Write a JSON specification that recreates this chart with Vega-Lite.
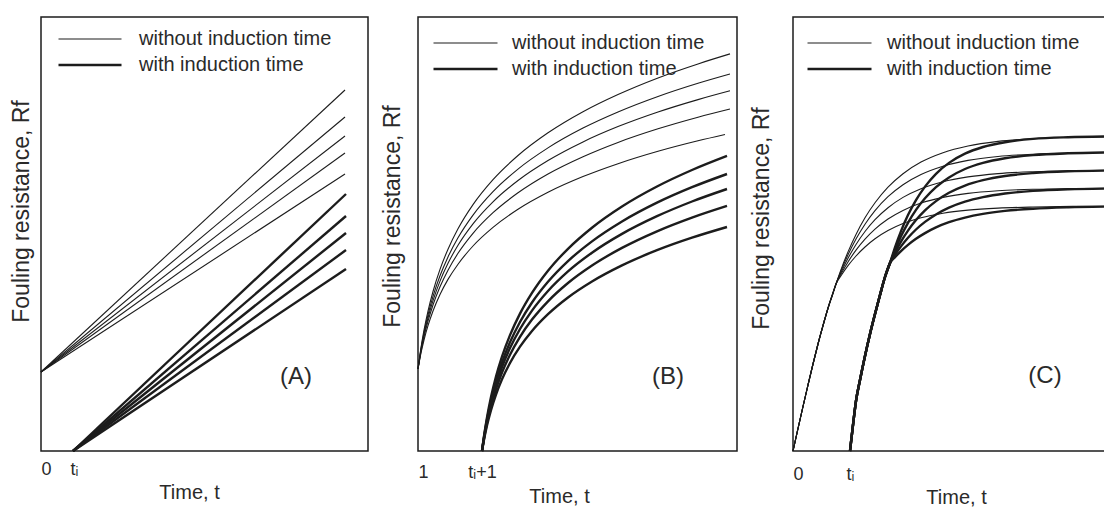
{
"$schema": "https://vega.github.io/schema/vega-lite/v6.json",
"padding": {"left": 9, "top": 16, "right": 0, "bottom": 0},
"spacing": 11,
"background": "white",
"config": {
  "font": "Liberation Sans",
  "view": {"stroke": "#1c1c1c", "strokeWidth": 1.5},
  "axis": {"grid": false, "ticks": false, "domain": false, "labelFont": "Liberation Sans", "labelFontSize": 18, "labelColor": "#2a2a2a", "titleFont": "Liberation Sans", "titleFontWeight": "normal", "titleColor": "#2a2a2a"},
  "legend": {"orient": "none", "title": null, "padding": 0, "symbolType": "stroke", "symbolStrokeColor": "#1c1c1c", "labelFont": "Liberation Sans", "labelFontSize": 20, "labelColor": "#2a2a2a", "labelLimit": 400, "clipHeight": 26, "rowPadding": 0},
  "line": {"color": "#1c1c1c"},
  "text": {"font": "Liberation Sans", "color": "#2a2a2a"}
},
"resolve": {"scale": {"x": "independent", "y": "independent", "strokeWidth": "independent"}, "legend": {"strokeWidth": "independent"}},
"datasets": {
"curves": [
{"p":"A","c":"w1","k":"without","t":0,"R":79},{"p":"A","c":"w1","k":"without","t":304,"R":361},
{"p":"A","c":"w2","k":"without","t":0,"R":79},{"p":"A","c":"w2","k":"without","t":304,"R":334},
{"p":"A","c":"w3","k":"without","t":0,"R":79},{"p":"A","c":"w3","k":"without","t":304,"R":315},
{"p":"A","c":"w4","k":"without","t":0,"R":79},{"p":"A","c":"w4","k":"without","t":304,"R":298},
{"p":"A","c":"w5","k":"without","t":0,"R":79},{"p":"A","c":"w5","k":"without","t":304,"R":277},
{"p":"A","c":"i1","k":"with","t":32,"R":0},{"p":"A","c":"i1","k":"with","t":305,"R":257},
{"p":"A","c":"i2","k":"with","t":32,"R":0},{"p":"A","c":"i2","k":"with","t":305,"R":235},
{"p":"A","c":"i3","k":"with","t":32,"R":0},{"p":"A","c":"i3","k":"with","t":305,"R":218},
{"p":"A","c":"i4","k":"with","t":32,"R":0},{"p":"A","c":"i4","k":"with","t":305,"R":201},
{"p":"A","c":"i5","k":"with","t":32,"R":0},{"p":"A","c":"i5","k":"with","t":305,"R":182},

{"p":"B","c":"w1","k":"without","t":0,"R":82},{"p":"B","c":"w1","k":"without","t":3,"R":103.3},{"p":"B","c":"w1","k":"without","t":6,"R":120.8},{"p":"B","c":"w1","k":"without","t":10,"R":139.9},{"p":"B","c":"w1","k":"without","t":15,"R":159.5},{"p":"B","c":"w1","k":"without","t":22,"R":181.6},{"p":"B","c":"w1","k":"without","t":30,"R":201.8},{"p":"B","c":"w1","k":"without","t":40,"R":222.2},{"p":"B","c":"w1","k":"without","t":55,"R":246.4},{"p":"B","c":"w1","k":"without","t":75,"R":271.4},{"p":"B","c":"w1","k":"without","t":100,"R":295.5},{"p":"B","c":"w1","k":"without","t":130,"R":318.2},{"p":"B","c":"w1","k":"without","t":165,"R":339.3},{"p":"B","c":"w1","k":"without","t":200,"R":356.5},{"p":"B","c":"w1","k":"without","t":240,"R":373.1},{"p":"B","c":"w1","k":"without","t":280,"R":387.1},{"p":"B","c":"w1","k":"without","t":312,"R":397.1},
{"p":"B","c":"w2","k":"without","t":0,"R":82},{"p":"B","c":"w2","k":"without","t":3,"R":102.0},{"p":"B","c":"w2","k":"without","t":6,"R":118.3},{"p":"B","c":"w2","k":"without","t":10,"R":136.2},{"p":"B","c":"w2","k":"without","t":15,"R":154.6},{"p":"B","c":"w2","k":"without","t":22,"R":175.2},{"p":"B","c":"w2","k":"without","t":30,"R":194.1},{"p":"B","c":"w2","k":"without","t":40,"R":213.2},{"p":"B","c":"w2","k":"without","t":55,"R":235.9},{"p":"B","c":"w2","k":"without","t":75,"R":259.3},{"p":"B","c":"w2","k":"without","t":100,"R":281.9},{"p":"B","c":"w2","k":"without","t":130,"R":303.1},{"p":"B","c":"w2","k":"without","t":165,"R":322.9},{"p":"B","c":"w2","k":"without","t":200,"R":339.0},{"p":"B","c":"w2","k":"without","t":240,"R":354.5},{"p":"B","c":"w2","k":"without","t":280,"R":367.7},{"p":"B","c":"w2","k":"without","t":312,"R":377.0},
{"p":"B","c":"w3","k":"without","t":0,"R":82},{"p":"B","c":"w3","k":"without","t":3,"R":100.8},{"p":"B","c":"w3","k":"without","t":6,"R":116.2},{"p":"B","c":"w3","k":"without","t":10,"R":133.2},{"p":"B","c":"w3","k":"without","t":15,"R":150.4},{"p":"B","c":"w3","k":"without","t":22,"R":169.9},{"p":"B","c":"w3","k":"without","t":30,"R":187.7},{"p":"B","c":"w3","k":"without","t":40,"R":205.8},{"p":"B","c":"w3","k":"without","t":55,"R":227.2},{"p":"B","c":"w3","k":"without","t":75,"R":249.2},{"p":"B","c":"w3","k":"without","t":100,"R":270.5},{"p":"B","c":"w3","k":"without","t":130,"R":290.5},{"p":"B","c":"w3","k":"without","t":165,"R":309.1},{"p":"B","c":"w3","k":"without","t":200,"R":324.4},{"p":"B","c":"w3","k":"without","t":240,"R":339.0},{"p":"B","c":"w3","k":"without","t":280,"R":351.4},{"p":"B","c":"w3","k":"without","t":312,"R":360.2},
{"p":"B","c":"w4","k":"without","t":0,"R":82},{"p":"B","c":"w4","k":"without","t":3,"R":99.6},{"p":"B","c":"w4","k":"without","t":6,"R":114.0},{"p":"B","c":"w4","k":"without","t":10,"R":129.8},{"p":"B","c":"w4","k":"without","t":15,"R":146.0},{"p":"B","c":"w4","k":"without","t":22,"R":164.2},{"p":"B","c":"w4","k":"without","t":30,"R":180.8},{"p":"B","c":"w4","k":"without","t":40,"R":197.7},{"p":"B","c":"w4","k":"without","t":55,"R":217.7},{"p":"B","c":"w4","k":"without","t":75,"R":238.3},{"p":"B","c":"w4","k":"without","t":100,"R":258.2},{"p":"B","c":"w4","k":"without","t":130,"R":277.0},{"p":"B","c":"w4","k":"without","t":165,"R":294.3},{"p":"B","c":"w4","k":"without","t":200,"R":308.6},{"p":"B","c":"w4","k":"without","t":240,"R":322.2},{"p":"B","c":"w4","k":"without","t":280,"R":333.8},{"p":"B","c":"w4","k":"without","t":312,"R":342.0},
{"p":"B","c":"w5","k":"without","t":0,"R":82},{"p":"B","c":"w5","k":"without","t":3,"R":98.0},{"p":"B","c":"w5","k":"without","t":6,"R":111.0},{"p":"B","c":"w5","k":"without","t":10,"R":125.3},{"p":"B","c":"w5","k":"without","t":15,"R":140.0},{"p":"B","c":"w5","k":"without","t":22,"R":156.5},{"p":"B","c":"w5","k":"without","t":30,"R":171.6},{"p":"B","c":"w5","k":"without","t":40,"R":186.8},{"p":"B","c":"w5","k":"without","t":55,"R":205.0},{"p":"B","c":"w5","k":"without","t":75,"R":223.6},{"p":"B","c":"w5","k":"without","t":100,"R":241.7},{"p":"B","c":"w5","k":"without","t":130,"R":258.7},{"p":"B","c":"w5","k":"without","t":165,"R":274.4},{"p":"B","c":"w5","k":"without","t":200,"R":287.3},{"p":"B","c":"w5","k":"without","t":240,"R":299.7},{"p":"B","c":"w5","k":"without","t":280,"R":310.2},{"p":"B","c":"w5","k":"without","t":307,"R":316.5},
{"p":"B","c":"i1","k":"with","t":64,"R":0},{"p":"B","c":"i1","k":"with","t":66,"R":14.8},{"p":"B","c":"i1","k":"with","t":69,"R":33.5},{"p":"B","c":"i1","k":"with","t":73,"R":53.9},{"p":"B","c":"i1","k":"with","t":78,"R":74.5},{"p":"B","c":"i1","k":"with","t":84,"R":94.5},{"p":"B","c":"i1","k":"with","t":92,"R":115.9},{"p":"B","c":"i1","k":"with","t":102,"R":137.4},{"p":"B","c":"i1","k":"with","t":114,"R":158.1},{"p":"B","c":"i1","k":"with","t":130,"R":180.3},{"p":"B","c":"i1","k":"with","t":150,"R":202.2},{"p":"B","c":"i1","k":"with","t":174,"R":223.3},{"p":"B","c":"i1","k":"with","t":204,"R":244.5},{"p":"B","c":"i1","k":"with","t":239,"R":264.5},{"p":"B","c":"i1","k":"with","t":274,"R":281.0},{"p":"B","c":"i1","k":"with","t":309,"R":295.1},
{"p":"B","c":"i2","k":"with","t":64,"R":0},{"p":"B","c":"i2","k":"with","t":66,"R":13.9},{"p":"B","c":"i2","k":"with","t":69,"R":31.5},{"p":"B","c":"i2","k":"with","t":73,"R":50.6},{"p":"B","c":"i2","k":"with","t":78,"R":69.9},{"p":"B","c":"i2","k":"with","t":84,"R":88.7},{"p":"B","c":"i2","k":"with","t":92,"R":108.8},{"p":"B","c":"i2","k":"with","t":102,"R":129.0},{"p":"B","c":"i2","k":"with","t":114,"R":148.5},{"p":"B","c":"i2","k":"with","t":130,"R":169.2},{"p":"B","c":"i2","k":"with","t":150,"R":189.9},{"p":"B","c":"i2","k":"with","t":174,"R":209.6},{"p":"B","c":"i2","k":"with","t":204,"R":229.5},{"p":"B","c":"i2","k":"with","t":239,"R":248.3},{"p":"B","c":"i2","k":"with","t":274,"R":263.8},{"p":"B","c":"i2","k":"with","t":309,"R":277.0},
{"p":"B","c":"i3","k":"with","t":64,"R":0},{"p":"B","c":"i3","k":"with","t":66,"R":13.2},{"p":"B","c":"i3","k":"with","t":69,"R":29.8},{"p":"B","c":"i3","k":"with","t":73,"R":47.8},{"p":"B","c":"i3","k":"with","t":78,"R":66.1},{"p":"B","c":"i3","k":"with","t":84,"R":83.9},{"p":"B","c":"i3","k":"with","t":92,"R":102.9},{"p":"B","c":"i3","k":"with","t":102,"R":122.0},{"p":"B","c":"i3","k":"with","t":114,"R":140.4},{"p":"B","c":"i3","k":"with","t":130,"R":160.0},{"p":"B","c":"i3","k":"with","t":150,"R":179.6},{"p":"B","c":"i3","k":"with","t":174,"R":198.3},{"p":"B","c":"i3","k":"with","t":204,"R":217.1},{"p":"B","c":"i3","k":"with","t":239,"R":234.8},{"p":"B","c":"i3","k":"with","t":274,"R":249.5},{"p":"B","c":"i3","k":"with","t":309,"R":262.0},
{"p":"B","c":"i4","k":"with","t":64,"R":0},{"p":"B","c":"i4","k":"with","t":66,"R":12.3},{"p":"B","c":"i4","k":"with","t":69,"R":27.9},{"p":"B","c":"i4","k":"with","t":73,"R":44.8},{"p":"B","c":"i4","k":"with","t":78,"R":61.9},{"p":"B","c":"i4","k":"with","t":84,"R":78.5},{"p":"B","c":"i4","k":"with","t":92,"R":96.3},{"p":"B","c":"i4","k":"with","t":102,"R":114.2},{"p":"B","c":"i4","k":"with","t":114,"R":131.4},{"p":"B","c":"i4","k":"with","t":130,"R":149.7},{"p":"B","c":"i4","k":"with","t":150,"R":168.0},{"p":"B","c":"i4","k":"with","t":174,"R":185.5},{"p":"B","c":"i4","k":"with","t":204,"R":203.1},{"p":"B","c":"i4","k":"with","t":239,"R":219.7},{"p":"B","c":"i4","k":"with","t":274,"R":233.4},{"p":"B","c":"i4","k":"with","t":309,"R":245.1},
{"p":"B","c":"i5","k":"with","t":64,"R":0},{"p":"B","c":"i5","k":"with","t":66,"R":11.3},{"p":"B","c":"i5","k":"with","t":69,"R":25.5},{"p":"B","c":"i5","k":"with","t":73,"R":40.9},{"p":"B","c":"i5","k":"with","t":78,"R":56.5},{"p":"B","c":"i5","k":"with","t":84,"R":71.7},{"p":"B","c":"i5","k":"with","t":92,"R":88.0},{"p":"B","c":"i5","k":"with","t":102,"R":104.3},{"p":"B","c":"i5","k":"with","t":114,"R":120.0},{"p":"B","c":"i5","k":"with","t":130,"R":136.8},{"p":"B","c":"i5","k":"with","t":150,"R":153.5},{"p":"B","c":"i5","k":"with","t":174,"R":169.5},{"p":"B","c":"i5","k":"with","t":204,"R":185.6},{"p":"B","c":"i5","k":"with","t":239,"R":200.8},{"p":"B","c":"i5","k":"with","t":274,"R":213.3},{"p":"B","c":"i5","k":"with","t":309,"R":224.0},

{"p":"C","c":"w1","k":"without","t":0,"R":0},{"p":"C","c":"w1","k":"without","t":5,"R":22.5},{"p":"C","c":"w1","k":"without","t":10,"R":44.5},{"p":"C","c":"w1","k":"without","t":15,"R":66},{"p":"C","c":"w1","k":"without","t":20,"R":87},{"p":"C","c":"w1","k":"without","t":25,"R":107},{"p":"C","c":"w1","k":"without","t":31,"R":129},{"p":"C","c":"w1","k":"without","t":36,"R":146},{"p":"C","c":"w1","k":"without","t":40,"R":158},{"p":"C","c":"w1","k":"without","t":43,"R":167},
{"p":"C","c":"w1","k":"without","t":48,"R":181.4},{"p":"C","c":"w1","k":"without","t":55,"R":199.1},{"p":"C","c":"w1","k":"without","t":63,"R":216.6},{"p":"C","c":"w1","k":"without","t":72,"R":233.2},{"p":"C","c":"w1","k":"without","t":82,"R":248.2},{"p":"C","c":"w1","k":"without","t":95,"R":263.8},{"p":"C","c":"w1","k":"without","t":110,"R":277.3},{"p":"C","c":"w1","k":"without","t":128,"R":288.9},{"p":"C","c":"w1","k":"without","t":150,"R":298.3},{"p":"C","c":"w1","k":"without","t":175,"R":305.0},{"p":"C","c":"w1","k":"without","t":205,"R":309.6},{"p":"C","c":"w1","k":"without","t":240,"R":312.3},{"p":"C","c":"w1","k":"without","t":280,"R":313.8},{"p":"C","c":"w1","k":"without","t":311,"R":314.4},
{"p":"C","c":"w2","k":"without","t":0,"R":0},{"p":"C","c":"w2","k":"without","t":5,"R":22.5},{"p":"C","c":"w2","k":"without","t":10,"R":44.5},{"p":"C","c":"w2","k":"without","t":15,"R":66},{"p":"C","c":"w2","k":"without","t":20,"R":87},{"p":"C","c":"w2","k":"without","t":25,"R":107},{"p":"C","c":"w2","k":"without","t":31,"R":129},{"p":"C","c":"w2","k":"without","t":36,"R":146},{"p":"C","c":"w2","k":"without","t":40,"R":158},{"p":"C","c":"w2","k":"without","t":43,"R":167},
{"p":"C","c":"w2","k":"without","t":48,"R":180.1},{"p":"C","c":"w2","k":"without","t":55,"R":196.2},{"p":"C","c":"w2","k":"without","t":63,"R":212.0},{"p":"C","c":"w2","k":"without","t":72,"R":226.8},{"p":"C","c":"w2","k":"without","t":82,"R":240.4},{"p":"C","c":"w2","k":"without","t":95,"R":254.3},{"p":"C","c":"w2","k":"without","t":110,"R":266.3},{"p":"C","c":"w2","k":"without","t":128,"R":276.5},{"p":"C","c":"w2","k":"without","t":150,"R":284.8},{"p":"C","c":"w2","k":"without","t":175,"R":290.6},{"p":"C","c":"w2","k":"without","t":205,"R":294.5},{"p":"C","c":"w2","k":"without","t":240,"R":296.8},{"p":"C","c":"w2","k":"without","t":280,"R":298.0},{"p":"C","c":"w2","k":"without","t":311,"R":298.5},
{"p":"C","c":"w3","k":"without","t":0,"R":0},{"p":"C","c":"w3","k":"without","t":5,"R":22.5},{"p":"C","c":"w3","k":"without","t":10,"R":44.5},{"p":"C","c":"w3","k":"without","t":15,"R":66},{"p":"C","c":"w3","k":"without","t":20,"R":87},{"p":"C","c":"w3","k":"without","t":25,"R":107},{"p":"C","c":"w3","k":"without","t":31,"R":129},{"p":"C","c":"w3","k":"without","t":36,"R":146},{"p":"C","c":"w3","k":"without","t":40,"R":158},{"p":"C","c":"w3","k":"without","t":43,"R":167},
{"p":"C","c":"w3","k":"without","t":48,"R":178.5},{"p":"C","c":"w3","k":"without","t":55,"R":192.7},{"p":"C","c":"w3","k":"without","t":63,"R":206.5},{"p":"C","c":"w3","k":"without","t":72,"R":219.5},{"p":"C","c":"w3","k":"without","t":82,"R":231.3},{"p":"C","c":"w3","k":"without","t":95,"R":243.3},{"p":"C","c":"w3","k":"without","t":110,"R":253.6},{"p":"C","c":"w3","k":"without","t":128,"R":262.3},{"p":"C","c":"w3","k":"without","t":150,"R":269.3},{"p":"C","c":"w3","k":"without","t":175,"R":274.1},{"p":"C","c":"w3","k":"without","t":205,"R":277.4},{"p":"C","c":"w3","k":"without","t":240,"R":279.3},{"p":"C","c":"w3","k":"without","t":280,"R":280.3},{"p":"C","c":"w3","k":"without","t":311,"R":280.6},
{"p":"C","c":"w4","k":"without","t":0,"R":0},{"p":"C","c":"w4","k":"without","t":5,"R":22.5},{"p":"C","c":"w4","k":"without","t":10,"R":44.5},{"p":"C","c":"w4","k":"without","t":15,"R":66},{"p":"C","c":"w4","k":"without","t":20,"R":87},{"p":"C","c":"w4","k":"without","t":25,"R":107},{"p":"C","c":"w4","k":"without","t":31,"R":129},{"p":"C","c":"w4","k":"without","t":36,"R":146},{"p":"C","c":"w4","k":"without","t":40,"R":158},{"p":"C","c":"w4","k":"without","t":43,"R":167},
{"p":"C","c":"w4","k":"without","t":48,"R":176.9},{"p":"C","c":"w4","k":"without","t":55,"R":189.0},{"p":"C","c":"w4","k":"without","t":63,"R":200.9},{"p":"C","c":"w4","k":"without","t":72,"R":211.9},{"p":"C","c":"w4","k":"without","t":82,"R":221.9},{"p":"C","c":"w4","k":"without","t":95,"R":232.0},{"p":"C","c":"w4","k":"without","t":110,"R":240.6},{"p":"C","c":"w4","k":"without","t":128,"R":247.9},{"p":"C","c":"w4","k":"without","t":150,"R":253.6},{"p":"C","c":"w4","k":"without","t":175,"R":257.6},{"p":"C","c":"w4","k":"without","t":205,"R":260.2},{"p":"C","c":"w4","k":"without","t":240,"R":261.7},{"p":"C","c":"w4","k":"without","t":280,"R":262.4},{"p":"C","c":"w4","k":"without","t":311,"R":262.7},
{"p":"C","c":"w5","k":"without","t":0,"R":0},{"p":"C","c":"w5","k":"without","t":5,"R":22.5},{"p":"C","c":"w5","k":"without","t":10,"R":44.5},{"p":"C","c":"w5","k":"without","t":15,"R":66},{"p":"C","c":"w5","k":"without","t":20,"R":87},{"p":"C","c":"w5","k":"without","t":25,"R":107},{"p":"C","c":"w5","k":"without","t":31,"R":129},{"p":"C","c":"w5","k":"without","t":36,"R":146},{"p":"C","c":"w5","k":"without","t":40,"R":158},{"p":"C","c":"w5","k":"without","t":43,"R":167},
{"p":"C","c":"w5","k":"without","t":48,"R":175.2},{"p":"C","c":"w5","k":"without","t":55,"R":185.3},{"p":"C","c":"w5","k":"without","t":63,"R":195.0},{"p":"C","c":"w5","k":"without","t":72,"R":204.0},{"p":"C","c":"w5","k":"without","t":82,"R":212.2},{"p":"C","c":"w5","k":"without","t":95,"R":220.4},{"p":"C","c":"w5","k":"without","t":110,"R":227.4},{"p":"C","c":"w5","k":"without","t":128,"R":233.2},{"p":"C","c":"w5","k":"without","t":150,"R":237.8},{"p":"C","c":"w5","k":"without","t":175,"R":240.9},{"p":"C","c":"w5","k":"without","t":205,"R":242.9},{"p":"C","c":"w5","k":"without","t":240,"R":244.0},{"p":"C","c":"w5","k":"without","t":280,"R":244.6},{"p":"C","c":"w5","k":"without","t":311,"R":244.8},
{"p":"C","c":"i1","k":"with","t":57,"R":0},{"p":"C","c":"i1","k":"with","t":60,"R":26},{"p":"C","c":"i1","k":"with","t":63,"R":50},{"p":"C","c":"i1","k":"with","t":67,"R":71},{"p":"C","c":"i1","k":"with","t":72,"R":95},{"p":"C","c":"i1","k":"with","t":77,"R":117},{"p":"C","c":"i1","k":"with","t":82,"R":137},{"p":"C","c":"i1","k":"with","t":87,"R":156},{"p":"C","c":"i1","k":"with","t":92,"R":174},{"p":"C","c":"i1","k":"with","t":97,"R":188},
{"p":"C","c":"i1","k":"with","t":102,"R":203.7},{"p":"C","c":"i1","k":"with","t":108,"R":219.9},{"p":"C","c":"i1","k":"with","t":115,"R":235.9},{"p":"C","c":"i1","k":"with","t":123,"R":250.9},{"p":"C","c":"i1","k":"with","t":132,"R":264.4},{"p":"C","c":"i1","k":"with","t":143,"R":277.2},{"p":"C","c":"i1","k":"with","t":156,"R":288.1},{"p":"C","c":"i1","k":"with","t":172,"R":297.3},{"p":"C","c":"i1","k":"with","t":190,"R":304.0},{"p":"C","c":"i1","k":"with","t":212,"R":308.8},{"p":"C","c":"i1","k":"with","t":240,"R":312.1},{"p":"C","c":"i1","k":"with","t":275,"R":313.8},{"p":"C","c":"i1","k":"with","t":311,"R":314.5},
{"p":"C","c":"i2","k":"with","t":57,"R":0},{"p":"C","c":"i2","k":"with","t":60,"R":26},{"p":"C","c":"i2","k":"with","t":63,"R":50},{"p":"C","c":"i2","k":"with","t":67,"R":71},{"p":"C","c":"i2","k":"with","t":72,"R":95},{"p":"C","c":"i2","k":"with","t":77,"R":117},{"p":"C","c":"i2","k":"with","t":82,"R":137},{"p":"C","c":"i2","k":"with","t":87,"R":156},{"p":"C","c":"i2","k":"with","t":92,"R":174},{"p":"C","c":"i2","k":"with","t":97,"R":188},
{"p":"C","c":"i2","k":"with","t":102,"R":201.0},{"p":"C","c":"i2","k":"with","t":108,"R":214.7},{"p":"C","c":"i2","k":"with","t":115,"R":228.2},{"p":"C","c":"i2","k":"with","t":123,"R":241.1},{"p":"C","c":"i2","k":"with","t":132,"R":252.7},{"p":"C","c":"i2","k":"with","t":143,"R":263.9},{"p":"C","c":"i2","k":"with","t":156,"R":273.6},{"p":"C","c":"i2","k":"with","t":172,"R":282.0},{"p":"C","c":"i2","k":"with","t":190,"R":288.1},{"p":"C","c":"i2","k":"with","t":212,"R":292.7},{"p":"C","c":"i2","k":"with","t":240,"R":295.9},{"p":"C","c":"i2","k":"with","t":275,"R":297.7},{"p":"C","c":"i2","k":"with","t":311,"R":298.5},
{"p":"C","c":"i3","k":"with","t":57,"R":0},{"p":"C","c":"i3","k":"with","t":60,"R":26},{"p":"C","c":"i3","k":"with","t":63,"R":50},{"p":"C","c":"i3","k":"with","t":67,"R":71},{"p":"C","c":"i3","k":"with","t":72,"R":95},{"p":"C","c":"i3","k":"with","t":77,"R":117},{"p":"C","c":"i3","k":"with","t":82,"R":137},{"p":"C","c":"i3","k":"with","t":87,"R":156},{"p":"C","c":"i3","k":"with","t":92,"R":174},{"p":"C","c":"i3","k":"with","t":97,"R":188},
{"p":"C","c":"i3","k":"with","t":102,"R":198.4},{"p":"C","c":"i3","k":"with","t":108,"R":209.4},{"p":"C","c":"i3","k":"with","t":115,"R":220.4},{"p":"C","c":"i3","k":"with","t":123,"R":230.9},{"p":"C","c":"i3","k":"with","t":132,"R":240.6},{"p":"C","c":"i3","k":"with","t":143,"R":249.9},{"p":"C","c":"i3","k":"with","t":156,"R":258.2},{"p":"C","c":"i3","k":"with","t":172,"R":265.4},{"p":"C","c":"i3","k":"with","t":190,"R":270.8},{"p":"C","c":"i3","k":"with","t":212,"R":275.0},{"p":"C","c":"i3","k":"with","t":240,"R":277.9},{"p":"C","c":"i3","k":"with","t":275,"R":279.7},{"p":"C","c":"i3","k":"with","t":311,"R":280.4},
{"p":"C","c":"i4","k":"with","t":57,"R":0},{"p":"C","c":"i4","k":"with","t":60,"R":26},{"p":"C","c":"i4","k":"with","t":63,"R":50},{"p":"C","c":"i4","k":"with","t":67,"R":71},{"p":"C","c":"i4","k":"with","t":72,"R":95},{"p":"C","c":"i4","k":"with","t":77,"R":117},{"p":"C","c":"i4","k":"with","t":82,"R":137},{"p":"C","c":"i4","k":"with","t":87,"R":156},{"p":"C","c":"i4","k":"with","t":92,"R":174},{"p":"C","c":"i4","k":"with","t":97,"R":188},
{"p":"C","c":"i4","k":"with","t":102,"R":196.1},{"p":"C","c":"i4","k":"with","t":108,"R":204.6},{"p":"C","c":"i4","k":"with","t":115,"R":213.2},{"p":"C","c":"i4","k":"with","t":123,"R":221.5},{"p":"C","c":"i4","k":"with","t":132,"R":229.1},{"p":"C","c":"i4","k":"with","t":143,"R":236.6},{"p":"C","c":"i4","k":"with","t":156,"R":243.4},{"p":"C","c":"i4","k":"with","t":172,"R":249.4},{"p":"C","c":"i4","k":"with","t":190,"R":253.9},{"p":"C","c":"i4","k":"with","t":212,"R":257.5},{"p":"C","c":"i4","k":"with","t":240,"R":260.1},{"p":"C","c":"i4","k":"with","t":275,"R":261.7},{"p":"C","c":"i4","k":"with","t":311,"R":262.4},
{"p":"C","c":"i5","k":"with","t":57,"R":0},{"p":"C","c":"i5","k":"with","t":60,"R":26},{"p":"C","c":"i5","k":"with","t":63,"R":50},{"p":"C","c":"i5","k":"with","t":67,"R":71},{"p":"C","c":"i5","k":"with","t":72,"R":95},{"p":"C","c":"i5","k":"with","t":77,"R":117},{"p":"C","c":"i5","k":"with","t":82,"R":137},{"p":"C","c":"i5","k":"with","t":87,"R":156},{"p":"C","c":"i5","k":"with","t":92,"R":174},{"p":"C","c":"i5","k":"with","t":97,"R":188},
{"p":"C","c":"i5","k":"with","t":102,"R":193.8},{"p":"C","c":"i5","k":"with","t":108,"R":199.9},{"p":"C","c":"i5","k":"with","t":115,"R":206.1},{"p":"C","c":"i5","k":"with","t":123,"R":212.2},{"p":"C","c":"i5","k":"with","t":132,"R":217.9},{"p":"C","c":"i5","k":"with","t":143,"R":223.6},{"p":"C","c":"i5","k":"with","t":156,"R":228.8},{"p":"C","c":"i5","k":"with","t":172,"R":233.4},{"p":"C","c":"i5","k":"with","t":190,"R":237.1},{"p":"C","c":"i5","k":"with","t":212,"R":240.1},{"p":"C","c":"i5","k":"with","t":240,"R":242.3},{"p":"C","c":"i5","k":"with","t":275,"R":243.7},{"p":"C","c":"i5","k":"with","t":311,"R":244.4}
]
},
"hconcat": [
{
  "width": 327, "height": 434,
  "layer": [
    {
      "data": {"name": "curves"},
      "transform": [{"filter": "datum.p == 'A'"}],
      "mark": {"type": "line", "interpolate": "linear"},
      "encoding": {
        "x": {"field": "t", "type": "quantitative", "scale": {"domain": [0, 327], "nice": false, "zero": false}, "axis": {"values": [0, 33], "labelExpr": "datum.value == 0 ? '0' : 't\u1d62'", "labelPadding": 9, "title": "Time, t", "titleFontSize": 20, "titleX": 148, "titleY": 41, "titleBaseline": "middle", "titleAlign": "center"}},
        "y": {"field": "R", "type": "quantitative", "scale": {"domain": [0, 434], "nice": false}, "axis": {"labels": false, "title": "Fouling resistance, Rf", "titleFontSize": 23, "titleAngle": 270, "titleX": -20, "titleY": 194, "titleBaseline": "middle", "titleAlign": "center"}},
        "detail": {"field": "c"},
        "strokeWidth": {"field": "k", "type": "ordinal", "scale": {"domain": ["without", "with"], "range": [1.1, 2.4]}, "legend": {"legendX": 16, "legendY": 9, "symbolSize": 3969, "labelOffset": 16, "labelLimit": 400, "labelExpr": "datum.label + ' induction time'"}}
      }
    },
    {
      "data": {"values": [{"label": "(A)"}]},
      "mark": {"type": "text", "fontSize": 24, "align": "center", "baseline": "middle"},
      "encoding": {"x": {"datum": 255, "type": "quantitative"}, "y": {"datum": 74, "type": "quantitative"}, "text": {"field": "label"}}
    }
  ]
},
{
  "width": 319, "height": 434,
  "layer": [
    {
      "data": {"name": "curves"},
      "transform": [{"filter": "datum.p == 'B'"}],
      "mark": {"type": "line", "interpolate": "monotone"},
      "encoding": {
        "x": {"field": "t", "type": "quantitative", "scale": {"domain": [0, 319], "nice": false, "zero": false}, "axis": {"values": [0, 64], "labelExpr": "datum.value == 0 ? '1' : 't\u1d62+1'", "labelPadding": 12, "title": "Time, t", "titleFontSize": 20, "titleX": 141, "titleY": 45, "titleBaseline": "middle", "titleAlign": "center"}},
        "y": {"field": "R", "type": "quantitative", "scale": {"domain": [0, 434], "nice": false}, "axis": {"labels": false, "title": "Fouling resistance, Rf", "titleFontSize": 23, "titleAngle": 270, "titleX": -26, "titleY": 199, "titleBaseline": "middle", "titleAlign": "center"}},
        "detail": {"field": "c"},
        "strokeWidth": {"field": "k", "type": "ordinal", "scale": {"domain": ["without", "with"], "range": [1.1, 2.4]}, "legend": {"legendX": 14, "legendY": 13, "symbolSize": 4096, "labelOffset": 13, "labelLimit": 400, "labelExpr": "datum.label + ' induction time'"}}
      }
    },
    {
      "data": {"values": [{"label": "(B)"}]},
      "mark": {"type": "text", "fontSize": 24, "align": "center", "baseline": "middle"},
      "encoding": {"x": {"datum": 250, "type": "quantitative"}, "y": {"datum": 74, "type": "quantitative"}, "text": {"field": "label"}}
    }
  ]
},
{
  "width": 314, "height": 434,
  "layer": [
    {
      "data": {"name": "curves"},
      "transform": [{"filter": "datum.p == 'C'"}],
      "mark": {"type": "line", "interpolate": "monotone"},
      "encoding": {
        "x": {"field": "t", "type": "quantitative", "scale": {"domain": [0, 314], "nice": false, "zero": false}, "axis": {"values": [0, 57], "labelExpr": "datum.value == 0 ? '0' : 't\u1d62'", "labelPadding": 14, "title": "Time, t", "titleFontSize": 20, "titleX": 163, "titleY": 46, "titleBaseline": "middle", "titleAlign": "center"}},
        "y": {"field": "R", "type": "quantitative", "scale": {"domain": [0, 434], "nice": false}, "axis": {"labels": false, "title": "Fouling resistance, Rf", "titleFontSize": 23, "titleAngle": 270, "titleX": -32, "titleY": 201, "titleBaseline": "middle", "titleAlign": "center"}},
        "detail": {"field": "c"},
        "strokeWidth": {"field": "k", "type": "ordinal", "scale": {"domain": ["without", "with"], "range": [1.1, 2.4]}, "legend": {"legendX": 13, "legendY": 13, "symbolSize": 4096, "labelOffset": 14, "labelLimit": 400, "labelExpr": "datum.label + ' induction time'"}}
      }
    },
    {
      "data": {"values": [{"label": "(C)"}]},
      "mark": {"type": "text", "fontSize": 24, "align": "center", "baseline": "middle"},
      "encoding": {"x": {"datum": 252, "type": "quantitative"}, "y": {"datum": 75, "type": "quantitative"}, "text": {"field": "label"}}
    }
  ]
}
]
}
